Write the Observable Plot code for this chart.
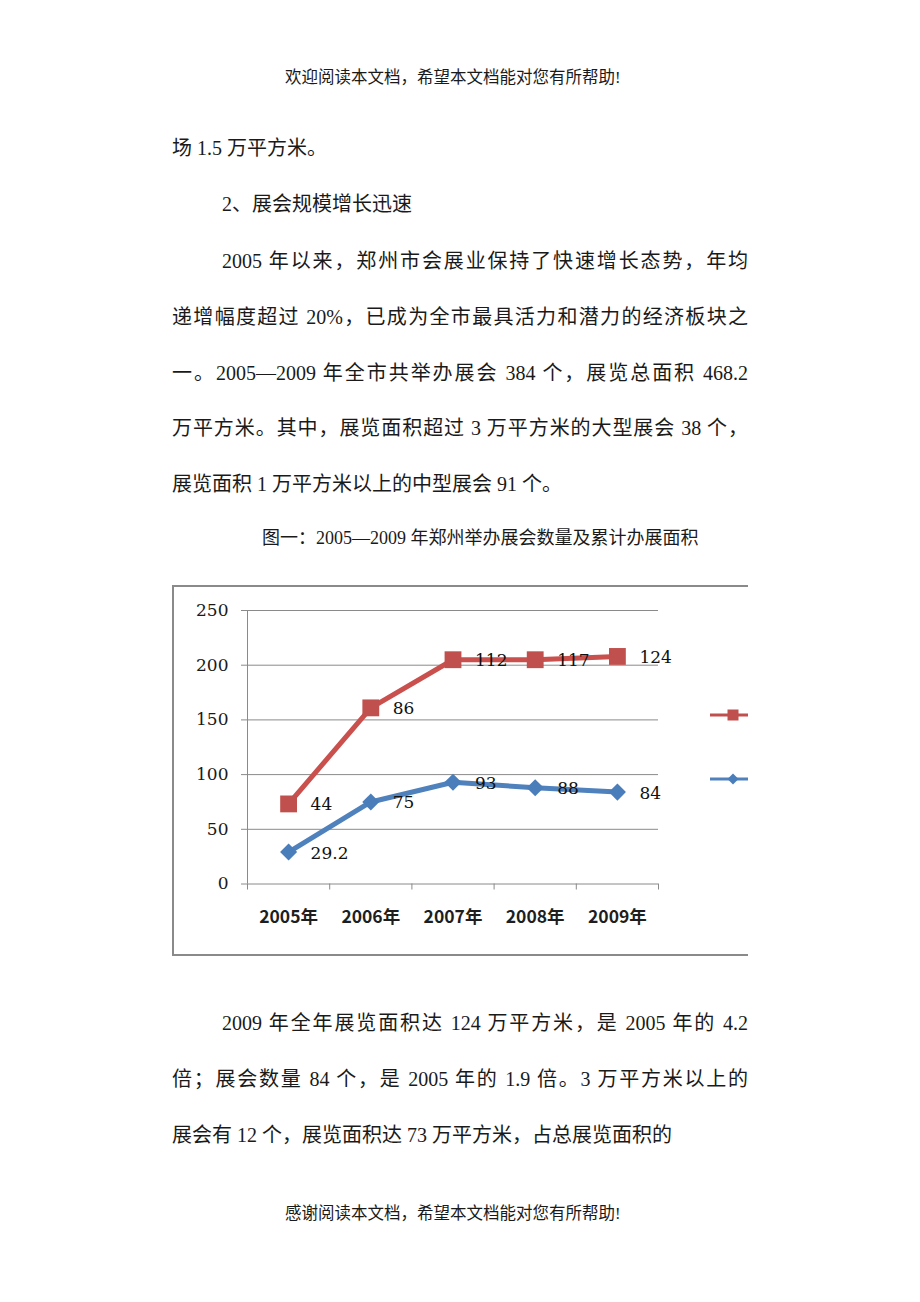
<!DOCTYPE html>
<html lang="zh-CN">
<head>
<meta charset="utf-8">
<script src="https://cdn.jsdelivr.net/npm/d3@7"></script>
<script src="https://cdn.jsdelivr.net/npm/@observablehq/plot@0.6"></script>
<style>
html, body { margin: 0; padding: 0; background: #fff; }
#page { position: relative; width: 920px; height: 1302px; color: #1a1a1a;
  font-family: "Liberation Serif", "Noto Sans CJK SC", serif; }
.hdr { position: absolute; left: 285px; font-size: 16.5px; line-height: 24px; white-space: nowrap; }
.ln { position: absolute; left: 172px; width: 576px; font-size: 20px; line-height: 30px; box-sizing: border-box; }
.j { text-align: justify; text-align-last: justify; }
.ind { padding-left: 50px; }
.cap { position: absolute; left: 262px; font-size: 18px; line-height: 26px; white-space: nowrap; }
#chartbox { position: absolute; left: 172px; top: 585px; width: 576px; height: 371px; overflow: hidden; }
#frame { position: absolute; left: 0; top: 0; width: 760px; height: 371px; box-sizing: border-box; border: 2px solid #8a8a8a; background: #fff; }
#chart { position: absolute; left: 0; top: 0; }
#legend { position: absolute; left: 0; top: 0; }
</style>
</head>
<body>
<div id="page">
  <div class="hdr" style="top:66px">欢迎阅读本文档，希望本文档能对您有所帮助!</div>
  <div class="ln" style="top:133px">场 1.5 万平方米。</div>
  <div class="ln ind" style="top:189px">2、展会规模增长迅速</div>
  <div class="ln ind j" style="top:246px">2005 年以来，郑州市会展业保持了快速增长态势，年均</div>
  <div class="ln j" style="top:302px">递增幅度超过 20%，已成为全市最具活力和潜力的经济板块之</div>
  <div class="ln j" style="top:358px">一。2005—2009 年全市共举办展会 384 个，展览总面积 468.2</div>
  <div class="ln j" style="top:413px">万平方米。其中，展览面积超过 3 万平方米的大型展会 38 个，</div>
  <div class="ln" style="top:469px">展览面积 1 万平方米以上的中型展会 91 个。</div>
  <div class="cap" style="top:525px">图一：2005—2009 年郑州举办展会数量及累计办展面积</div>
  <div id="chartbox">
    <div id="frame"></div>
    <div id="chart"></div>
    <svg id="legend" width="576" height="371">
      <line x1="538" y1="130" x2="600" y2="130" stroke="#C0504D" stroke-width="3"></line>
      <rect x="555.5" y="124.5" width="11" height="11" fill="#C0504D"></rect>
      <line x1="538" y1="194" x2="600" y2="194" stroke="#4F81BD" stroke-width="3"></line>
      <path d="M561,188.5L566.5,194L561,199.5L555.5,194Z" fill="#4A7EBB"></path>
    </svg>
  </div>
  <div class="ln ind j" style="top:1008px">2009 年全年展览面积达 124 万平方米，是 2005 年的 4.2</div>
  <div class="ln j" style="top:1064px">倍；展会数量 84 个，是 2005 年的 1.9 倍。3 万平方米以上的</div>
  <div class="ln" style="top:1120px">展会有 12 个，展览面积达 73 万平方米，占总展览面积的</div>
  <div class="hdr" style="top:1202px">感谢阅读本文档，希望本文档能对您有所帮助!</div>
</div>
<script>
// ---- data ----
const years = [2005, 2006, 2007, 2008, 2009];
const yearLabels = ["2005年", "2006年", "2007年", "2008年", "2009年"];
const countValues = [29.2, 75, 93, 88, 84];      // blue series (bottom of stack)
const areaValues = [44, 86, 112, 117, 124];      // red series (stacked on top)
const seriesNames = ["展会数量（个）", "展览面积（万平方米）"];
const yTicks = [0, 50, 100, 150, 200, 250];

const BLUE = "#4F81BD", BLUE_MARK = "#4A7EBB", RED = "#C9504D", RED_MARK = "#C0504D";

const rows = [
  ...years.map((year, i) => ({year, series: seriesNames[0], value: countValues[i]})),
  ...years.map((year, i) => ({year, series: seriesNames[1], value: areaValues[i]}))
];
const bounds = [...years.map(y => y - 0.5), years[years.length - 1] + 0.5];
const labelOf = d => yearLabels[years.indexOf(d)];

const stack = extra => Plot.stackY2({x: "year", y: "value", z: "series", ...extra});

const chart = Plot.plot({
  width: 576,
  height: 371,
  marginLeft: 75,
  marginRight: 90,
  marginTop: 25,
  marginBottom: 72.5,
  style: {background: "transparent", overflow: "visible"},
  x: {type: "linear", domain: [bounds[0], bounds[bounds.length - 1]]},
  y: {domain: [0, 250]},
  color: {domain: seriesNames, range: [BLUE, RED]},
  marks: [
    Plot.gridY(yTicks, {stroke: "#8a8a8a", strokeOpacity: 1, strokeWidth: 1}),
    Plot.ruleX([bounds[0]], {stroke: "#8a8a8a", strokeWidth: 1}),
    Plot.axisY({ticks: yTicks, tickSize: 6, tickPadding: 13, stroke: "#8a8a8a", fill: "#1a1a1a",
      fontSize: 17, fontFamily: "DejaVu Serif", label: null}),
    Plot.axisX({ticks: bounds, tickSize: 6, tickFormat: () => "", stroke: "#8a8a8a", label: null}),
    Plot.axisX({ticks: years, tickSize: 0, tickPadding: 27, tickFormat: labelOf, fill: "#1e1e1e",
      fontSize: 17.5, fontWeight: 600, fontFamily: "Noto Sans CJK SC", label: null}),
    Plot.line(rows, stack({stroke: "series", strokeWidth: 5})),
    Plot.dot(rows, Plot.filter(d => d.series === seriesNames[0],
      stack({symbol: "diamond2", r: 7.7, fill: BLUE_MARK, stroke: "none"}))),
    Plot.dot(rows, Plot.filter(d => d.series === seriesNames[1],
      stack({symbol: "square", r: 9.5, fill: RED_MARK, stroke: "none"}))),
    Plot.text(rows, stack({text: "value", dx: 22, dy: 1, textAnchor: "start",
      fontSize: 17, fontFamily: "DejaVu Serif", fill: "#111"}))
  ]
});
document.getElementById("chart").appendChild(chart);
</script>
</body>
</html>
